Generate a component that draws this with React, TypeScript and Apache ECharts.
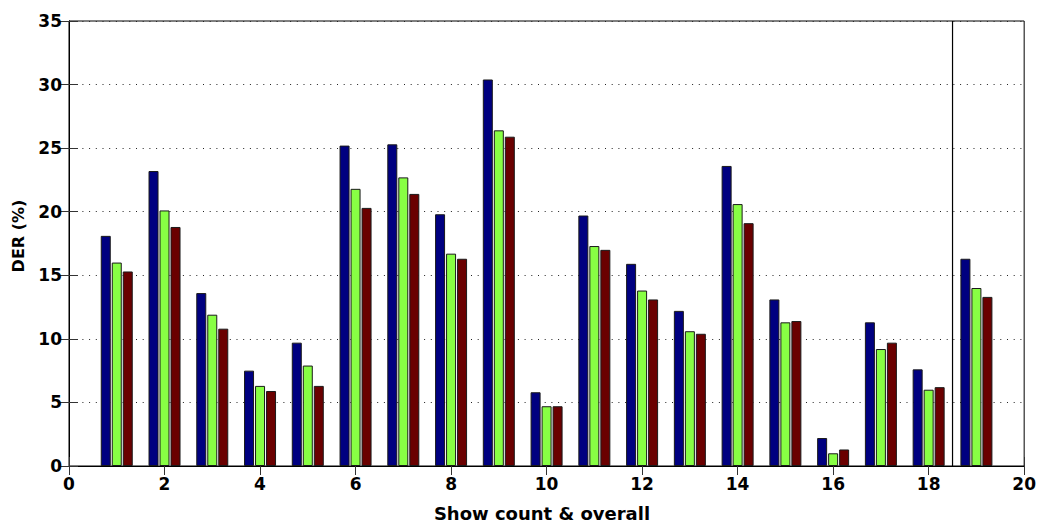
import React, { useEffect, useRef } from "react";
import * as echarts from "echarts";

const shows = [1, 2, 3, 4, 5, 6, 7, 8, 9, 10, 11, 12, 13, 14, 15, 16, 17, 18, 19];
const blueValues = [18.1, 23.2, 13.6, 7.5, 9.7, 25.2, 25.3, 19.8, 30.4, 5.8, 19.7, 15.9, 12.2, 23.6, 13.1, 2.2, 11.3, 7.6, 16.3];
const greenValues = [16.0, 20.1, 11.9, 6.3, 7.9, 21.8, 22.7, 16.7, 26.4, 4.7, 17.3, 13.8, 10.6, 20.6, 11.3, 1.0, 9.2, 6.0, 14.0];
const redValues = [15.3, 18.8, 10.8, 5.9, 6.3, 20.3, 21.4, 16.3, 25.9, 4.7, 17.0, 13.1, 10.4, 19.1, 11.4, 1.3, 9.7, 6.2, 13.3];
const separatorX = 18.5;
const xTitle = "Show count & overall";
const yTitle = "DER (%)";

const FONT = "'DejaVu Sans', 'Liberation Sans', Arial, sans-serif";

export default function App() {
  const ref = useRef<HTMLDivElement>(null);
  useEffect(() => {
    if (!ref.current) return;
    const chart = echarts.init(ref.current, undefined, { renderer: "svg" });
    const labelStyle = { color: "#000", fontFamily: FONT, fontWeight: "bold" as const, fontSize: 17 };
    const mk = (vals: number[], color: string) => ({
      type: "bar",
      xAxisIndex: 0,
      yAxisIndex: 0,
      data: shows.map((x, i) => [x, vals[i]]),
      barWidth: 10,
      barGap: "10%",
      itemStyle: { color, borderColor: "#1a1a1a", borderWidth: 1 },
    });
    chart.setOption({
      animation: false,
      backgroundColor: "#fff",
      grid: {
        left: 69,
        right: 11,
        top: 21,
        bottom: 57,
        show: true,
        borderColor: "#000",
        borderWidth: 1,
        backgroundColor: "transparent",
      },
      graphic: [
        {
          type: "text",
          x: 542,
          y: 513,
          style: {
            text: xTitle,
            fill: "#000",
            font: `bold 18px ${FONT}`,
            textAlign: "center",
            textVerticalAlign: "middle",
          },
        },
        {
          type: "text",
          x: 18,
          y: 236,
          rotation: Math.PI / 2,
          style: {
            text: yTitle,
            fill: "#000",
            font: `bold 16px ${FONT}`,
            textAlign: "center",
            textVerticalAlign: "middle",
          },
        },
      ],
      xAxis: [
        {
          type: "value",
          min: 0,
          max: 20,
          interval: 2,
          position: "bottom",
          axisLine: { show: true, lineStyle: { color: "#000", width: 1 } },
          axisTick: { show: true, inside: true, length: 9, lineStyle: { color: "#333" } },
          axisLabel: { ...labelStyle, margin: 9 },
          splitLine: { show: false },
        },
        {
          type: "value",
          min: 0,
          max: 20,
          interval: 2,
          position: "top",
          axisLine: { show: true, lineStyle: { color: "#000", width: 1 } },
          axisTick: { show: true, inside: true, length: 9, lineStyle: { color: "#333" } },
          axisLabel: { show: false },
          splitLine: { show: false },
        },
      ],
      yAxis: [
        {
          type: "value",
          min: 0,
          max: 35,
          interval: 5,
          position: "left",
          axisLine: { show: true, lineStyle: { color: "#000", width: 1 } },
          axisTick: { show: true, inside: true, length: 9, lineStyle: { color: "#333" } },
          axisLabel: { ...labelStyle, margin: 7 },
          splitLine: { show: true, lineStyle: { color: "#222", width: 1, type: [1, 5.7] } },
        },
        {
          type: "value",
          min: 0,
          max: 35,
          interval: 5,
          position: "right",
          axisLine: { show: true, lineStyle: { color: "#000", width: 1 } },
          axisTick: { show: true, inside: true, length: 9, lineStyle: { color: "#333" } },
          axisLabel: { show: false },
          splitLine: { show: false },
        },
      ],
      series: [
        mk(blueValues, "#000080"),
        mk(greenValues, "#88ff44"),
        mk(redValues, "#6a0000"),
        {
          type: "line",
          xAxisIndex: 0,
          yAxisIndex: 0,
          data: [
            [separatorX, 0],
            [separatorX, 35],
          ],
          symbol: "none",
          silent: true,
          lineStyle: { color: "#000", width: 1.2, type: "solid" },
          z: 5,
        },
      ],
    });
    return () => chart.dispose();
  }, []);
  return <div ref={ref} style={{ width: 1039, height: 523, position: "absolute", left: 0, top: 0 }} />;
}
